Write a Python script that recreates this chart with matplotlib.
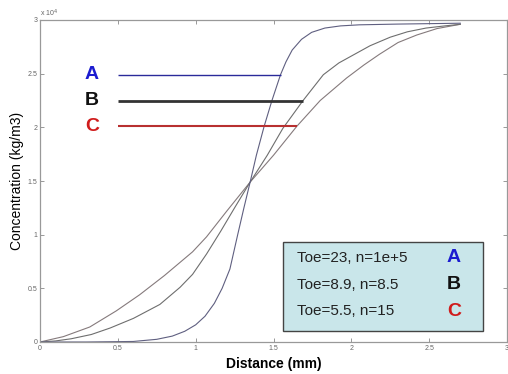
import matplotlib
matplotlib.use("Agg")
import matplotlib.pyplot as plt
import matplotlib.patches as mpatches

plt.rcParams['font.family'] = ['Liberation Sans', 'DejaVu Sans']

# concentration in units of 1e4 kg/m3, distance in mm
dist_a = [0, 0.3, 0.6, 0.75, 0.85, 0.93, 1.0, 1.06, 1.12, 1.17, 1.22, 1.27, 1.31,
          1.35, 1.39, 1.44, 1.49, 1.545, 1.58, 1.62, 1.68, 1.745, 1.83, 1.93,
          2.05, 2.3, 2.7]
conc_a = [0, 0, 0.005, 0.025, 0.055, 0.10, 0.16, 0.24, 0.36, 0.50, 0.68, 1.0, 1.25,
          1.49, 1.74, 2.01, 2.25, 2.49, 2.61, 2.72, 2.82, 2.885, 2.925, 2.945,
          2.955, 2.962, 2.97]

dist_b = [0, 0.1, 0.2, 0.33, 0.45, 0.6, 0.77, 0.9, 0.98, 1.07, 1.16, 1.25, 1.35,
          1.46, 1.56, 1.69, 1.82, 1.92, 2.02, 2.12, 2.25, 2.36, 2.48, 2.6, 2.7]
conc_b = [0, 0.01, 0.03, 0.07, 0.13, 0.22, 0.35, 0.51, 0.63, 0.82, 1.03, 1.25, 1.49,
          1.74, 1.99, 2.25, 2.49, 2.60, 2.68, 2.76, 2.84, 2.89, 2.925, 2.945, 2.96]

dist_c = [0, 0.15, 0.32, 0.49, 0.64, 0.8, 0.98, 1.07, 1.2, 1.35, 1.5, 1.65, 1.8,
          1.97, 2.08, 2.18, 2.3, 2.42, 2.55, 2.7]
conc_c = [0, 0.05, 0.14, 0.29, 0.44, 0.62, 0.84, 0.98, 1.22, 1.49, 1.74, 2.01, 2.25,
          2.46, 2.58, 2.68, 2.79, 2.86, 2.92, 2.96]

# marker lines next to the letters
letters = ['A', 'B', 'C']
letter_colors = ['#1c1cd0', '#111111', '#d01c1c']
line_colors = ['#2a2a9a', '#333333', '#b83030']
line_widths = [1.0, 2.0, 1.5]
mark_levels = [2.49, 2.25, 2.01]
mark_ends = [1.545, 1.69, 1.65]

legend_texts = ['Toe=23, n=1e+5', 'Toe=8.9, n=8.5', 'Toe=5.5, n=15']

ticks = [0, 0.5, 1, 1.5, 2, 2.5, 3]

fig = plt.figure(figsize=(5.08, 3.74), dpi=100)
ax = fig.add_axes([40/508, 32/374, 467/508, 322/374])

ax.plot(dist_c, conc_c, color='#857a7c', lw=0.8)
ax.plot(dist_b, conc_b, color='#6e6e6e', lw=0.8)
ax.plot(dist_a, conc_a, color='#5f5f80', lw=0.8)

for i in range(3):
    ax.plot([0.5, mark_ends[i]], [mark_levels[i], mark_levels[i]],
            color=line_colors[i], lw=line_widths[i], solid_capstyle='butt')
    ax.text(0.334, mark_levels[i], letters[i], color=letter_colors[i],
            fontsize=14, fontweight='bold', ha='center', va='center')

# box with the parameters
box = mpatches.Rectangle((1.56, 0.10), 1.285, 0.83, facecolor='#c9e6ea',
                         edgecolor='#444444', lw=1.0, zorder=3)
ax.add_patch(box)
box_rows = [0.785, 0.535, 0.285]
for i in range(3):
    ax.text(1.65, box_rows[i], legend_texts[i], fontsize=11, color='#222222',
            va='center', ha='left', zorder=4)
    ax.text(2.66, box_rows[i], letters[i], fontsize=14, fontweight='bold',
            color=letter_colors[i], va='center', ha='center', zorder=4)

ax.set_xlim(0, 3)
ax.set_ylim(0, 3)
ax.set_xticks(ticks)
ax.set_yticks(ticks)
ax.set_xticklabels(['%g' % t for t in ticks])
ax.set_yticklabels(['%g' % t for t in ticks])
ax.tick_params(direction='in', length=3, width=0.6, colors='#888888',
               labelsize=5, labelcolor='#666666', top=True, right=True, pad=2)
for s in ax.spines.values():
    s.set_color('#999999')
    s.set_linewidth(0.9)

ax.text(0.0, 1.004, r'x 10$^4$', transform=ax.transAxes, fontsize=5,
        color='#666666', ha='left', va='bottom')

ax.set_xlabel('Distance (mm)', fontsize=10, fontweight='bold', labelpad=4)
ax.set_ylabel('Concentration (kg/m3)', fontsize=10, labelpad=2.5)

fig.savefig('out.png', dpi=100)
